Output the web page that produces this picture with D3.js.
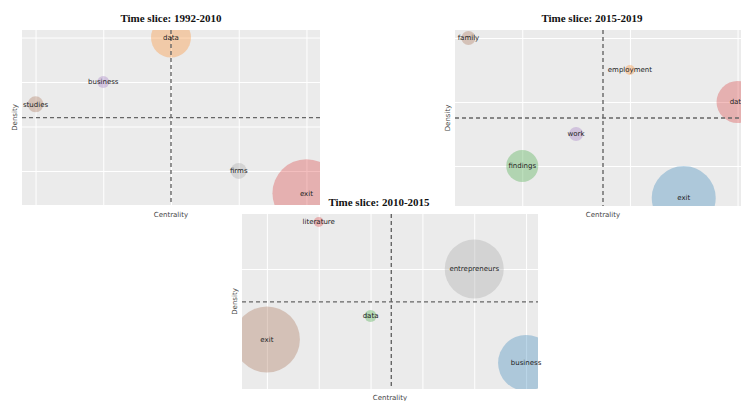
<!DOCTYPE html>
<html>
<head>
<meta charset="utf-8">
<script src="https://cdn.jsdelivr.net/npm/d3@7"></script>
<style>
  body { margin: 0; background: #fff; }
  svg { display: block; }
</style>
</head>
<body>
<script>
// time slice 1992-2010
const topics1 = ['data', 'business', 'studies', 'firms', 'exit']
const centrality1 = [3, 2, 1, 4, 5]
const density1 = [8, 6, 5, 2, 1]
const size1 = [334, 30, 53, 53, 966]
const colors1 = ['orange', 'purple', 'brown', 'gray', 'red']

// time slice 2015-2019
const topics2 = ['family', 'employment', 'data', 'work', 'findings', 'exit']
const centrality2 = [1, 4, 6, 3, 2, 5]
const density2 = [6, 5, 4, 3, 2, 1]
const size2 = [41, 21, 368, 41, 214, 855]
const colors2 = ['brown', 'orange', 'red', 'purple', 'green', 'blue']

// time slice 2010-2015
const topics3 = ['literature', 'entrepreneurs', 'data', 'exit', 'business']
const centrality3 = [2, 5, 3, 1, 6]
const density3 = [7, 5, 3, 2, 1]
const size3 = [21, 727, 30, 910, 655]
const colors3 = ['red', 'gray', 'green', 'brown', 'blue']

const titles = ['Time slice: 1992-2010', 'Time slice: 2015-2019', 'Time slice: 2010-2015']

const tab10 = {
  blue: '#1f77b4', orange: '#ff7f0e', green: '#2ca02c', red: '#d62728',
  purple: '#9467bd', brown: '#a0603f', gray: '#9a9a9a'
}

width = 741
height = 401

let svg = d3.select('body')
  .append('svg')
  .attr('width', width)
  .attr('height', height)

let r = d3.scaleSqrt().domain([0, 1000]).range([0, 34.6])

let panels = [
  { topics: topics1, cx: centrality1, dy: density1, size: size1, colors: colors1, title: titles[0],
    box: { left: 22, right: 320, top: 30, bottom: 205 },
    xDomain: [0.8, 5.2], yDomain: [0.47, 8.34], xGrid: [1, 2, 3, 4, 5], yGrid: [2, 4, 6, 8],
    titleY: 22, labelY: 217 },
  { topics: topics2, cx: centrality2, dy: density2, size: size2, colors: colors2, title: titles[1],
    box: { left: 455, right: 751, top: 30, bottom: 206 },
    xDomain: [0.75, 6.25], yDomain: [0.75, 6.25], xGrid: [2, 4, 6], yGrid: [2, 4, 6],
    titleY: 22, labelY: 217, titleX: 592 },
  { topics: topics3, cx: centrality3, dy: density3, size: size3, colors: colors3, title: titles[2],
    box: { left: 242, right: 538, top: 214, bottom: 389 },
    xDomain: [0.52, 6.23], yDomain: [-0.11, 7.34], xGrid: [1, 2, 3, 4, 5, 6], yGrid: [5],
    titleY: 206, labelY: 400, titleX: 379 }
]

panels.forEach((p, i) => {
  let b = p.box
  let x = d3.scaleLinear().domain(p.xDomain).range([b.left, b.right])
  let y = d3.scaleLinear().domain(p.yDomain).range([b.bottom, b.top])
  let g = svg.append('g')

  g.append('clipPath')
    .attr('id', 'clip' + i)
    .append('rect')
      .attr('x', b.left)
      .attr('y', b.top)
      .attr('width', b.right - b.left)
      .attr('height', b.bottom - b.top)

  g.append('rect')
    .attr('x', b.left)
    .attr('y', b.top)
    .attr('width', b.right - b.left)
    .attr('height', b.bottom - b.top)
    .attr('fill', '#ebebeb')

  // grid from hidden ticks
  g.append('g')
    .attr('transform', `translate(0, ${b.bottom})`)
    .call(d3.axisBottom(x).tickValues(p.xGrid).tickSize(-(b.bottom - b.top)).tickFormat(''))
    .call(a => a.select('.domain').remove())
    .selectAll('line').attr('stroke', '#fff').attr('stroke-width', 1)
  g.append('g')
    .attr('transform', `translate(${b.left}, 0)`)
    .call(d3.axisLeft(y).tickValues(p.yGrid).tickSize(-(b.right - b.left)).tickFormat(''))
    .call(a => a.select('.domain').remove())
    .selectAll('line').attr('stroke', '#fff').attr('stroke-width', 1)

  let rows = p.topics.map((t, k) => ({ topic: t, c: p.cx[k], d: p.dy[k], s: p.size[k], col: p.colors[k] }))

  let plot = g.append('g').attr('clip-path', `url(#clip${i})`)

  plot.selectAll('circle')
    .data(rows)
    .join('circle')
      .attr('cx', d => x(d.c))
      .attr('cy', d => y(d.d))
      .attr('r', d => r(d.s))
      .attr('fill', d => tab10[d.col])
      .attr('fill-opacity', 0.3)

  let mx = d3.mean(p.cx)
  let my = d3.mean(p.dy)
  plot.append('line')
    .attr('x1', x(mx)).attr('x2', x(mx))
    .attr('y1', b.top).attr('y2', b.bottom)
    .attr('stroke', '#666').attr('stroke-width', 1.4).attr('stroke-dasharray', '4,3')
  plot.append('line')
    .attr('x1', b.left).attr('x2', b.right)
    .attr('y1', y(my)).attr('y2', y(my))
    .attr('stroke', '#666').attr('stroke-width', 1.4).attr('stroke-dasharray', '4,3')

  // topic labels are not clipped to the plot area
  g.append('g').selectAll('text')
    .data(rows)
    .join('text')
      .attr('x', d => x(d.c))
      .attr('y', d => y(d.d))
      .attr('dy', '0.35em')
      .attr('text-anchor', 'middle')
      .attr('font-family', 'DejaVu Sans')
      .attr('font-size', 7)
      .attr('fill', '#222')
      .text(d => d.topic)

  let midX = p.titleX || (b.left + b.right) / 2
  g.append('text')
    .attr('x', midX)
    .attr('y', p.titleY)
    .attr('text-anchor', 'middle')
    .attr('font-family', 'Liberation Serif')
    .attr('font-weight', 'bold')
    .attr('font-size', 11)
    .attr('fill', '#111')
    .text(p.title)

  g.append('text')
    .attr('x', (b.left + b.right) / 2)
    .attr('y', p.labelY)
    .attr('text-anchor', 'middle')
    .attr('font-family', 'DejaVu Sans')
    .attr('font-size', 7)
    .attr('fill', '#444')
    .text('Centrality')

  g.append('text')
    .attr('transform', `translate(${b.left - 5}, ${(b.top + b.bottom) / 2}) rotate(-90)`)
    .attr('text-anchor', 'middle')
    .attr('font-family', 'DejaVu Sans')
    .attr('font-size', 7)
    .attr('fill', '#444')
    .text('Density')
})
</script>
</body>
</html>
